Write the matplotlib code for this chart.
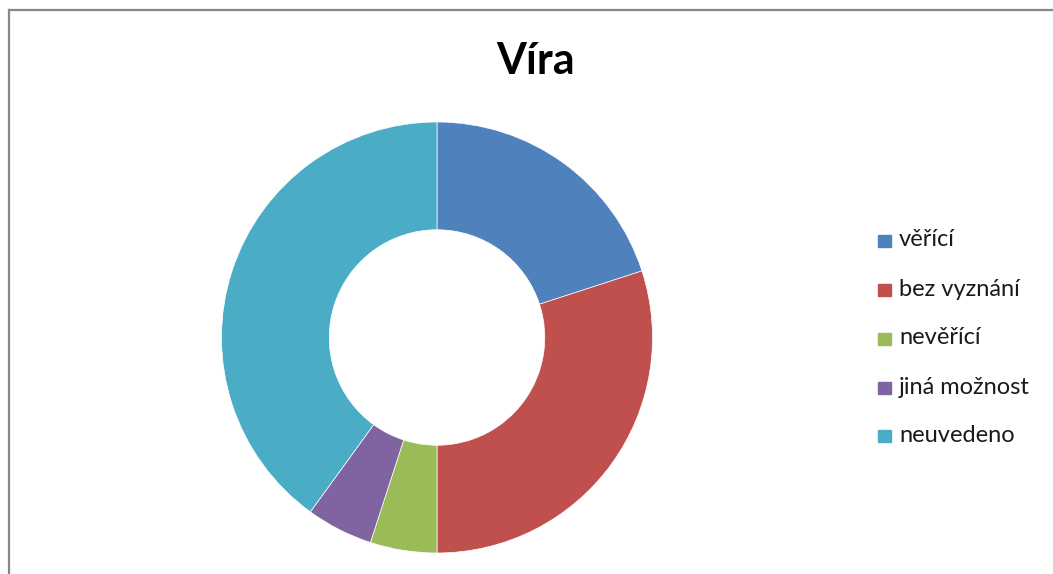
import matplotlib.pyplot as plt
from matplotlib.lines import Line2D

labels = ["věřící", "bez vyznání", "nevěřící", "jiná možnost", "neuvedeno"]
values = [20, 30, 5, 5, 40]
colors = ["#4F81BD", "#C0504D", "#9BBB59", "#8064A2", "#4BACC6"]

plt.rcParams['font.family'] = ['Lato', 'DejaVu Sans']

W, H = 1053, 574
fig = plt.figure(figsize=(W / 100, H / 100), dpi=100)

# grey frame (only left and top visible in the crop)
fig.add_artist(Line2D([9 / W, 9 / W], [0, 1 - 10 / H], color="#878787", lw=1.6))
fig.add_artist(Line2D([9 / W, 1], [1 - 10 / H, 1 - 10 / H], color="#878787", lw=1.6))

cx, cy, r = 437, 337.5, 215.5
ax = fig.add_axes([(cx - r) / W, (H - cy - r) / H, 2 * r / W, 2 * r / H])
wedges, _ = ax.pie(values, colors=colors, startangle=90, counterclock=False,
                   radius=1, wedgeprops=dict(width=0.5, edgecolor="white", linewidth=0.5))
ax.set_xlim(-1, 1)
ax.set_ylim(-1, 1)
ax.set_aspect("equal")
ax.axis("off")

fig.text(536 / W, 1 - 61 / H, "Víra", ha="center", va="center",
         fontsize=31, fontweight="bold")

ypos = [241, 290, 339, 388, 436]
for lab, col, y in zip(labels, colors, ypos):
    fig.patches.append(plt.Rectangle((878 / W, 1 - (y + 6) / H), 13 / W, 12 / H,
                                     transform=fig.transFigure, color=col))
    fig.text(899 / W, 1 - (y - 1) / H, lab, ha="left", va="center", fontsize=17,
             color="#1a1a1a")

fig.savefig("out.png", dpi=100, facecolor="white")
